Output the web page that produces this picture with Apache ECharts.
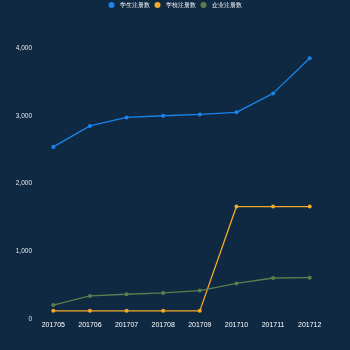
<!DOCTYPE html>
<html>
<head>
<meta charset="utf-8">
<script src="https://cdn.jsdelivr.net/npm/echarts@6/dist/echarts.min.js"></script>
<style>
html,body{margin:0;padding:0;background:#0f2942;}
#chart{width:350px;height:350px;}
</style>
</head>
<body>
<div id="chart"></div>
<script>
// Monthly registration counts
const months = ['201705','201706','201707','201708','201709','201710','201711','201712'];
const students = [2540, 2850, 2975, 3000, 3020, 3050, 3330, 3850];
const schools = [120, 120, 120, 120, 120, 1660, 1660, 1660];
const companies = [205, 340, 365, 385, 420, 525, 605, 610];
const seriesNames = ['学生注册数', '学校注册数', '企业注册数'];
const colors = ['#1a84ec', '#f5a92a', '#5d7e4c'];

const chart = echarts.init(document.getElementById('chart'), null, {renderer: 'canvas'});

function lineSeries(name, data, color) {
  return {
    name: name,
    type: 'line',
    data: data,
    symbol: 'circle',
    symbolSize: 4,
    itemStyle: {color: color},
    lineStyle: {color: color, width: 1.3}
  };
}

chart.setOption({
  backgroundColor: '#0f2942',
  animation: false,
  color: colors,
  legend: {
    top: 2,
    left: 'center',
    padding: 0,
    icon: 'circle',
    itemWidth: 6,
    itemHeight: 6,
    itemGap: 5,
    textStyle: {color: '#ffffff', fontSize: 5.5},
    data: seriesNames
  },
  grid: {left: 35, right: 22, top: 48, bottom: 31},
  xAxis: {
    type: 'category',
    boundaryGap: true,
    data: months,
    axisLine: {show: false},
    axisTick: {show: false},
    splitLine: {show: false},
    axisLabel: {color: '#ffffff', fontSize: 7, margin: 3}
  },
  yAxis: {
    type: 'value',
    min: 0,
    max: 4000,
    interval: 1000,
    axisLine: {show: false},
    axisTick: {show: false},
    splitLine: {show: false},
    axisLabel: {color: '#e6e9ee', fontSize: 6.5, margin: 3}
  },
  series: [
    lineSeries(seriesNames[0], students, colors[0]),
    lineSeries(seriesNames[1], schools, colors[1]),
    lineSeries(seriesNames[2], companies, colors[2])
  ]
});
</script>
</body>
</html>
